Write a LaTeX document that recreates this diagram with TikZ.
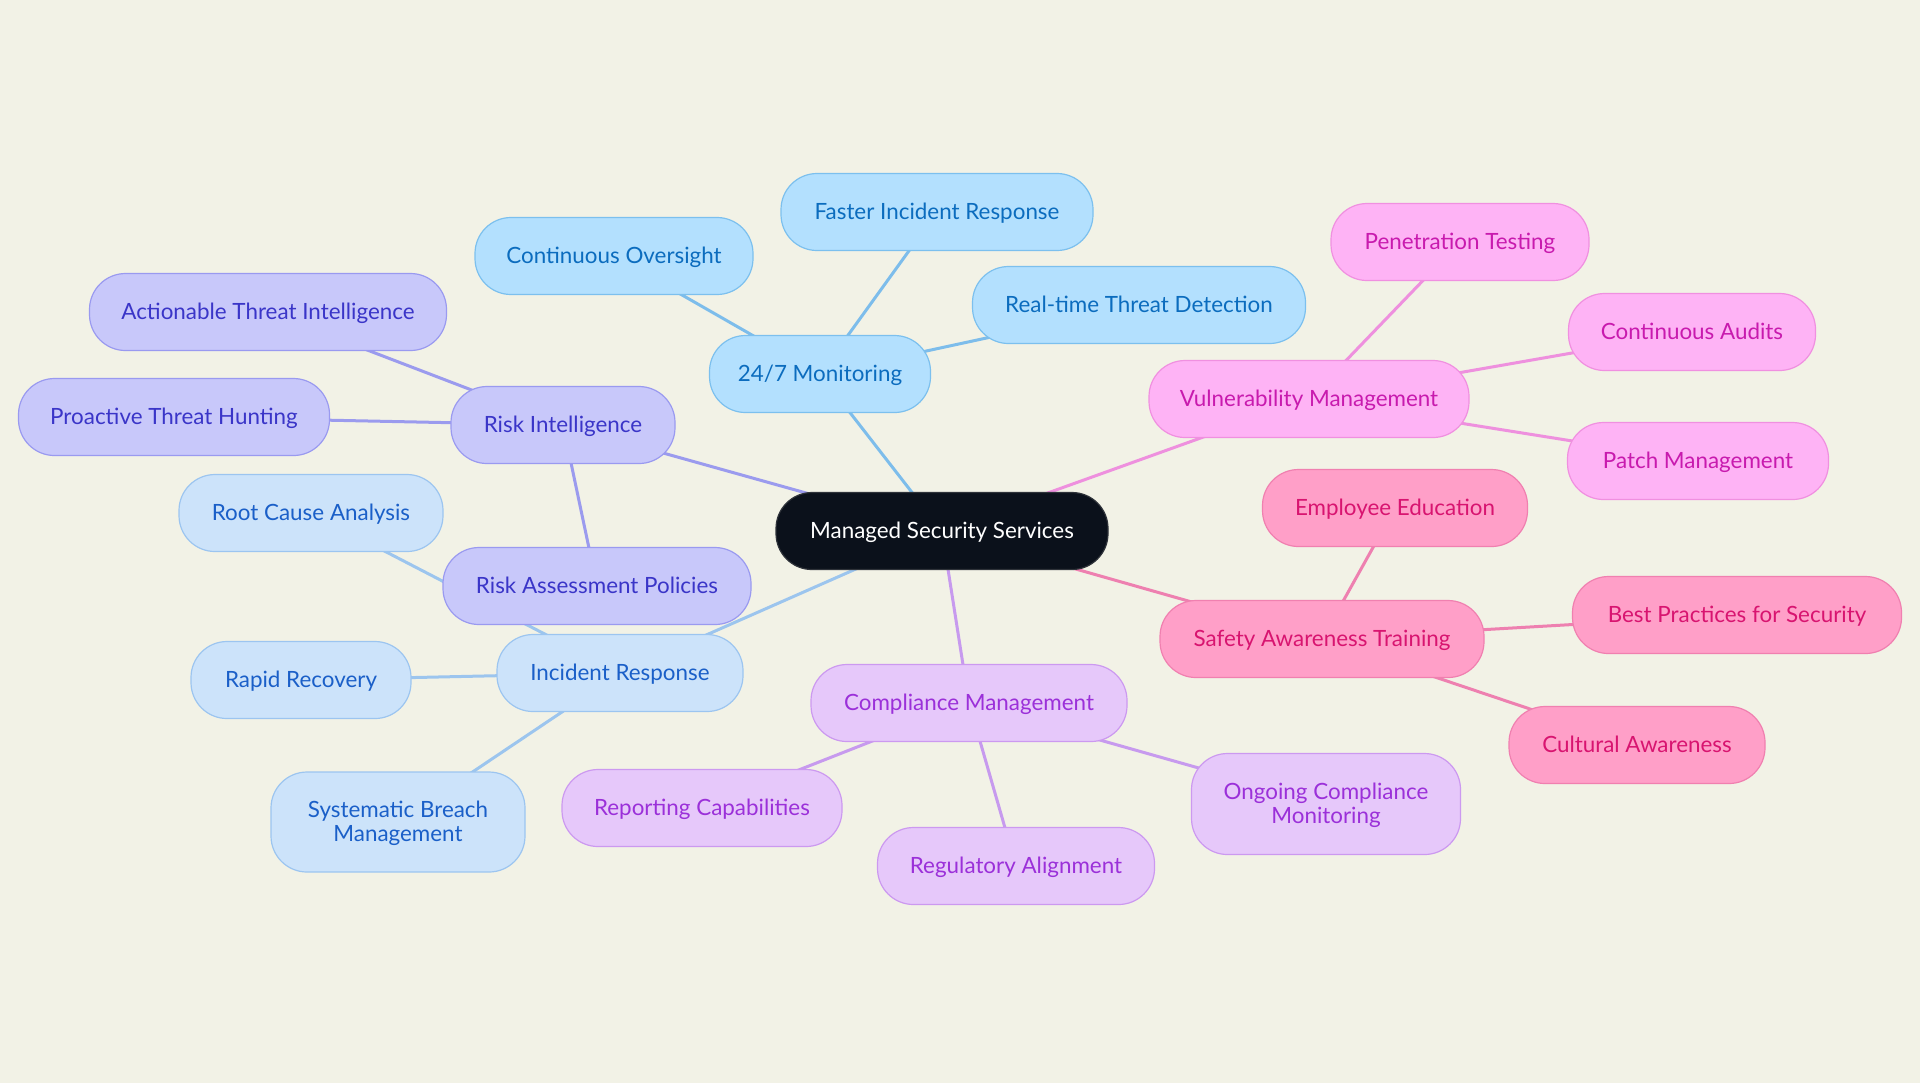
\documentclass[tikz,border=0pt]{standalone}
\usepackage{fontspec}
\setmainfont{Lato}
\usetikzlibrary{backgrounds}
\begin{document}
\begin{tikzpicture}[x=0.5pt,y=-0.5pt,
  box/.style={rounded corners=18pt,minimum height=38.5pt,inner sep=0pt,line width=0.6pt,font=\fontsize{11.2}{11.8}\selectfont,align=center,text depth=1pt},
  edge/.style={line width=1.5pt},
  cblue/.style={box,fill=mblueF,draw=mblueD,text=mblueT},
  cviol/.style={box,fill=mviolF,draw=mviolD,text=mviolT},
  clblue/.style={box,fill=lblueF,draw=lblueD,text=lblueT},
  cpurp/.style={box,fill=purpF,draw=purpD,text=purpT},
  cmag/.style={box,fill=magF,draw=magD,text=magT},
  cpink/.style={box,fill=pinkF,draw=pinkD,text=pinkT}]
\definecolor{bg}{HTML}{F2F2E6}
\definecolor{mblueF}{HTML}{B3E0FE}\definecolor{mblueD}{HTML}{7CC0EE}\definecolor{mblueT}{HTML}{0B6CBE}\definecolor{mblueE}{HTML}{7DBDEB}
\definecolor{mviolF}{HTML}{C8C8FA}\definecolor{mviolD}{HTML}{9A9AF0}\definecolor{mviolT}{HTML}{3A35C8}\definecolor{mviolE}{HTML}{9B9BEE}
\definecolor{lblueF}{HTML}{CCE3FA}\definecolor{lblueD}{HTML}{9CC5F0}\definecolor{lblueT}{HTML}{1A5FC8}\definecolor{lblueE}{HTML}{9CC5EE}
\definecolor{purpF}{HTML}{E6C8FA}\definecolor{purpD}{HTML}{CC99F0}\definecolor{purpT}{HTML}{9B30D9}\definecolor{purpE}{HTML}{C79AEE}
\definecolor{magF}{HTML}{FEB3F5}\definecolor{magD}{HTML}{F090E0}\definecolor{magT}{HTML}{C81AAE}\definecolor{magE}{HTML}{EE90DE}
\definecolor{pinkF}{HTML}{FF9FC8}\definecolor{pinkD}{HTML}{F080B0}\definecolor{pinkT}{HTML}{D81470}\definecolor{pinkE}{HTML}{EE80B0}
\definecolor{darkF}{HTML}{0B111B}
\useasboundingbox (0,0) rectangle (1920,1083);
% nodes
\node[box,fill=darkF,draw=darkF!70!gray,text=white,minimum width=166pt] (c) at (942,531) {Managed Security Services};
\node[cblue,minimum width=110.5pt] (mon) at (820,374) {24/7 Monitoring};
\node[cblue,minimum width=156pt] (fir) at (937,212) {Faster Incident Response};
\node[cblue,minimum width=139pt] (co) at (614,256) {Continuous Oversight};
\node[cblue,minimum width=166.5pt] (rtd) at (1139,305) {Real-time Threat Detection};
\node[cviol,minimum width=112pt] (ri) at (563,425) {Risk Intelligence};
\node[cviol,minimum width=178.5pt] (ati) at (268,312) {Actionable Threat Intelligence};
\node[cviol,minimum width=155.5pt] (pth) at (174,417) {Proactive Threat Hunting};
\node[clblue,minimum width=132pt] (rca) at (311,513) {Root Cause Analysis};
\node[clblue,minimum width=123pt] (ir) at (620,673) {Incident Response};
\node[clblue,minimum width=110pt] (rr) at (301,680) {Rapid Recovery};
\node[clblue,minimum width=127pt,minimum height=50pt] (sbm) at (398,822) {Systematic Breach\\Management};
\node[cpurp,minimum width=158pt] (cm) at (969,703) {Compliance Management};
\node[cpurp,minimum width=140pt] (rc) at (702,808) {Reporting Capabilities};
\node[cpurp,minimum width=138.5pt] (ra) at (1016,866) {Regulatory Alignment};
\node[cpurp,minimum width=134.5pt,minimum height=50.5pt] (ocm) at (1326,804) {Ongoing Compliance\\Monitoring};
\node[cmag,minimum width=160pt] (vm) at (1309,399) {Vulnerability Management};
\node[cmag,minimum width=129pt] (pt) at (1460,242) {Penetration Testing};
\node[cmag,minimum width=123.5pt] (ca) at (1692,332) {Continuous Audits};
\node[cmag,minimum width=130.5pt] (pm) at (1698,461) {Patch Management};
\node[cpink,minimum width=162pt] (sat) at (1322,639) {Safety Awareness Training};
\node[cpink,minimum width=132.5pt] (ee) at (1395,508) {Employee Education};
\node[cpink,minimum width=164.5pt] (bps) at (1737,615) {Best Practices for Security};
\node[cpink,minimum width=128pt] (cua) at (1637,745) {Cultural Awareness};
\node[cviol,minimum width=154pt] (rap) at (597,586) {Risk Assessment Policies};
% edges (behind)
\begin{scope}[on background layer]
\fill[bg] (0,0) rectangle (1920,1083);
\draw[edge,mblueE] (c.center) -- (mon.center);
\draw[edge,mblueE] (mon.center) -- (fir.center);
\draw[edge,mblueE] (mon.center) -- (co.center);
\draw[edge,mblueE] (mon.center) -- (rtd.center);
\draw[edge,mviolE] (c.center) -- (ri.center);
\draw[edge,mviolE] (ri.center) -- (ati.center);
\draw[edge,mviolE] (ri.center) -- (pth.center);
\draw[edge,mviolE] (ri.center) -- (rap.center);
\draw[edge,lblueE] (c.center) -- (ir.center);
\draw[edge,lblueE] (ir.center) -- (rca.center);
\draw[edge,lblueE] (ir.center) -- (rr.center);
\draw[edge,lblueE] (ir.center) -- (sbm.center);
\draw[edge,purpE] (c.center) -- (cm.center);
\draw[edge,purpE] (cm.center) -- (rc.center);
\draw[edge,purpE] (cm.center) -- (ra.center);
\draw[edge,purpE] (cm.center) -- (ocm.center);
\draw[edge,magE] (c.center) -- (vm.center);
\draw[edge,magE] (vm.center) -- (pt.center);
\draw[edge,magE] (vm.center) -- (ca.center);
\draw[edge,magE] (vm.center) -- (pm.center);
\draw[edge,pinkE] (c.center) -- (sat.center);
\draw[edge,pinkE] (sat.center) -- (ee.center);
\draw[edge,pinkE] (sat.center) -- (bps.center);
\draw[edge,pinkE] (sat.center) -- (cua.center);
\end{scope}
\end{tikzpicture}
\end{document}
